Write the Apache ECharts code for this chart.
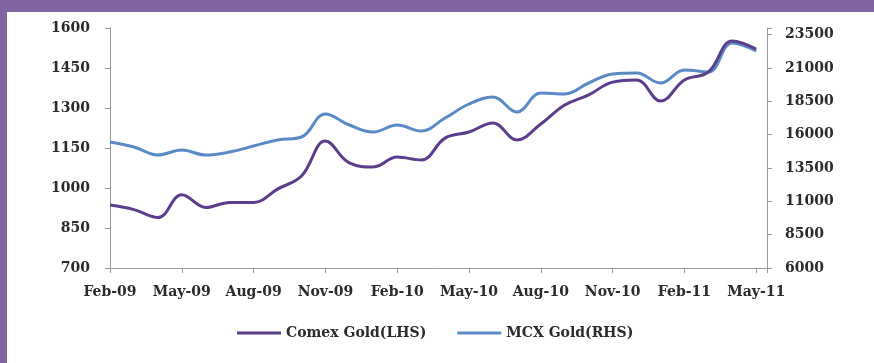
<!DOCTYPE html>
<html>
<head>
<meta charset="utf-8">
<script src="https://cdn.jsdelivr.net/npm/echarts@6/dist/echarts.min.js"></script>
<style>
html,body{margin:0;padding:0;background:#fff;}
#chart{width:874px;height:363px;}
</style>
</head>
<body>
<div id="chart"></div>
<script>
// Month labels (monthly points, Feb-09 .. May-11)
const months = ['Feb-09','Mar-09','Apr-09','May-09','Jun-09','Jul-09','Aug-09','Sep-09','Oct-09','Nov-09','Dec-09','Jan-10',
  'Feb-10','Mar-10','Apr-10','May-10','Jun-10','Jul-10','Aug-10','Sep-10','Oct-10','Nov-10','Dec-10','Jan-11',
  'Feb-11','Mar-11','Apr-11','May-11'];
// Comex Gold (LHS, USD/oz)
const comexGold = [936, 919, 889, 975, 927, 946, 946, 996, 1045, 1176, 1094, 1079,
  1116, 1105, 1187, 1210, 1244, 1180, 1240, 1311, 1349, 1397, 1405, 1326,
  1405, 1435, 1551, 1521];
// MCX Gold (RHS, Rs/10g)
const mcxGold = [15450, 15075, 14475, 14850, 14475, 14700, 15150, 15600, 15825, 17550, 16725, 16200,
  16725, 16275, 17250, 18300, 18825, 17700, 19125, 19050, 19875, 20550, 20625, 19875,
  20850, 20700, 22875, 22275];
const leftTicks = [700, 850, 1000, 1150, 1300, 1450, 1600];
const rightTicks = [6000, 8500, 11000, 13500, 16000, 18500, 21000, 23500];

const FONT = 'DejaVu Serif';
const TXT = '#2b2b2b';
const AXIS = '#9a9a9a';
const FS = 14;

const chart = echarts.init(document.getElementById('chart'), null, {renderer: 'canvas'});
const toPairs = arr => arr.map((v, i) => [i, v]);

chart.setOption({
  backgroundColor: '#ffffff',
  animation: false,
  graphic: [
    {type: 'rect', left: 0, top: 0, shape: {width: 874, height: 12}, style: {fill: '#8064A2'}, silent: true},
    {type: 'rect', left: 0, top: 0, shape: {width: 7, height: 363}, style: {fill: '#8064A2'}, silent: true}
  ],
  grid: {left: 110, right: 107, top: 28, bottom: 95, containLabel: false},
  legend: {
    left: 232, top: 321,
    itemWidth: 44, itemHeight: 3, itemGap: 31, icon: 'rect',
    textStyle: {fontFamily: FONT, fontWeight: 'bold', fontSize: FS, color: TXT},
    data: ['Comex Gold(LHS)', 'MCX Gold(RHS)']
  },
  xAxis: {
    type: 'value', min: 0, max: 27.45, interval: 3,
    axisLine: {show: true, lineStyle: {color: AXIS, width: 1}},
    axisTick: {show: true, inside: false, length: 5, lineStyle: {color: AXIS}},
    splitLine: {show: false},
    axisLabel: {
      margin: 17, fontFamily: FONT, fontWeight: 'bold', fontSize: FS, color: TXT,
      showMaxLabel: true,
      formatter: v => (Number.isInteger(v) && v % 3 === 0 && months[v]) ? months[v] : ''
    }
  },
  yAxis: [
    {
      type: 'value', position: 'left', min: leftTicks[0], max: leftTicks[leftTicks.length - 1], interval: 150,
      axisLine: {show: true, lineStyle: {color: AXIS, width: 1}},
      axisTick: {show: true, length: 5, lineStyle: {color: AXIS}},
      splitLine: {show: false},
      axisLabel: {margin: 20, fontFamily: FONT, fontWeight: 'bold', fontSize: FS, color: TXT,
        formatter: v => String(v)}
    },
    {
      type: 'value', position: 'right', min: 6000, max: 24000, interval: 2500,
      axisLine: {show: true, lineStyle: {color: AXIS, width: 1}},
      axisTick: {show: true, length: 5, lineStyle: {color: AXIS}},
      splitLine: {show: false},
      axisLabel: {
        margin: 18, fontFamily: FONT, fontWeight: 'bold', fontSize: FS, color: TXT,
        formatter: v => rightTicks.indexOf(v) >= 0 ? String(v) : ''
      }
    }
  ],
  series: [
    {
      name: 'MCX Gold(RHS)', type: 'line', yAxisIndex: 1, smooth: 0.4,
      showSymbol: false, symbol: 'none',
      lineStyle: {color: '#5a8ac6', width: 3},
      itemStyle: {color: '#5a8ac6'},
      data: toPairs(mcxGold), z: 2
    },
    {
      name: 'Comex Gold(LHS)', type: 'line', yAxisIndex: 0, smooth: 0.4,
      showSymbol: false, symbol: 'none',
      lineStyle: {color: '#5b3d8c', width: 3},
      itemStyle: {color: '#5b3d8c'},
      data: toPairs(comexGold), z: 3
    }
  ]
});
</script>
</body>
</html>
